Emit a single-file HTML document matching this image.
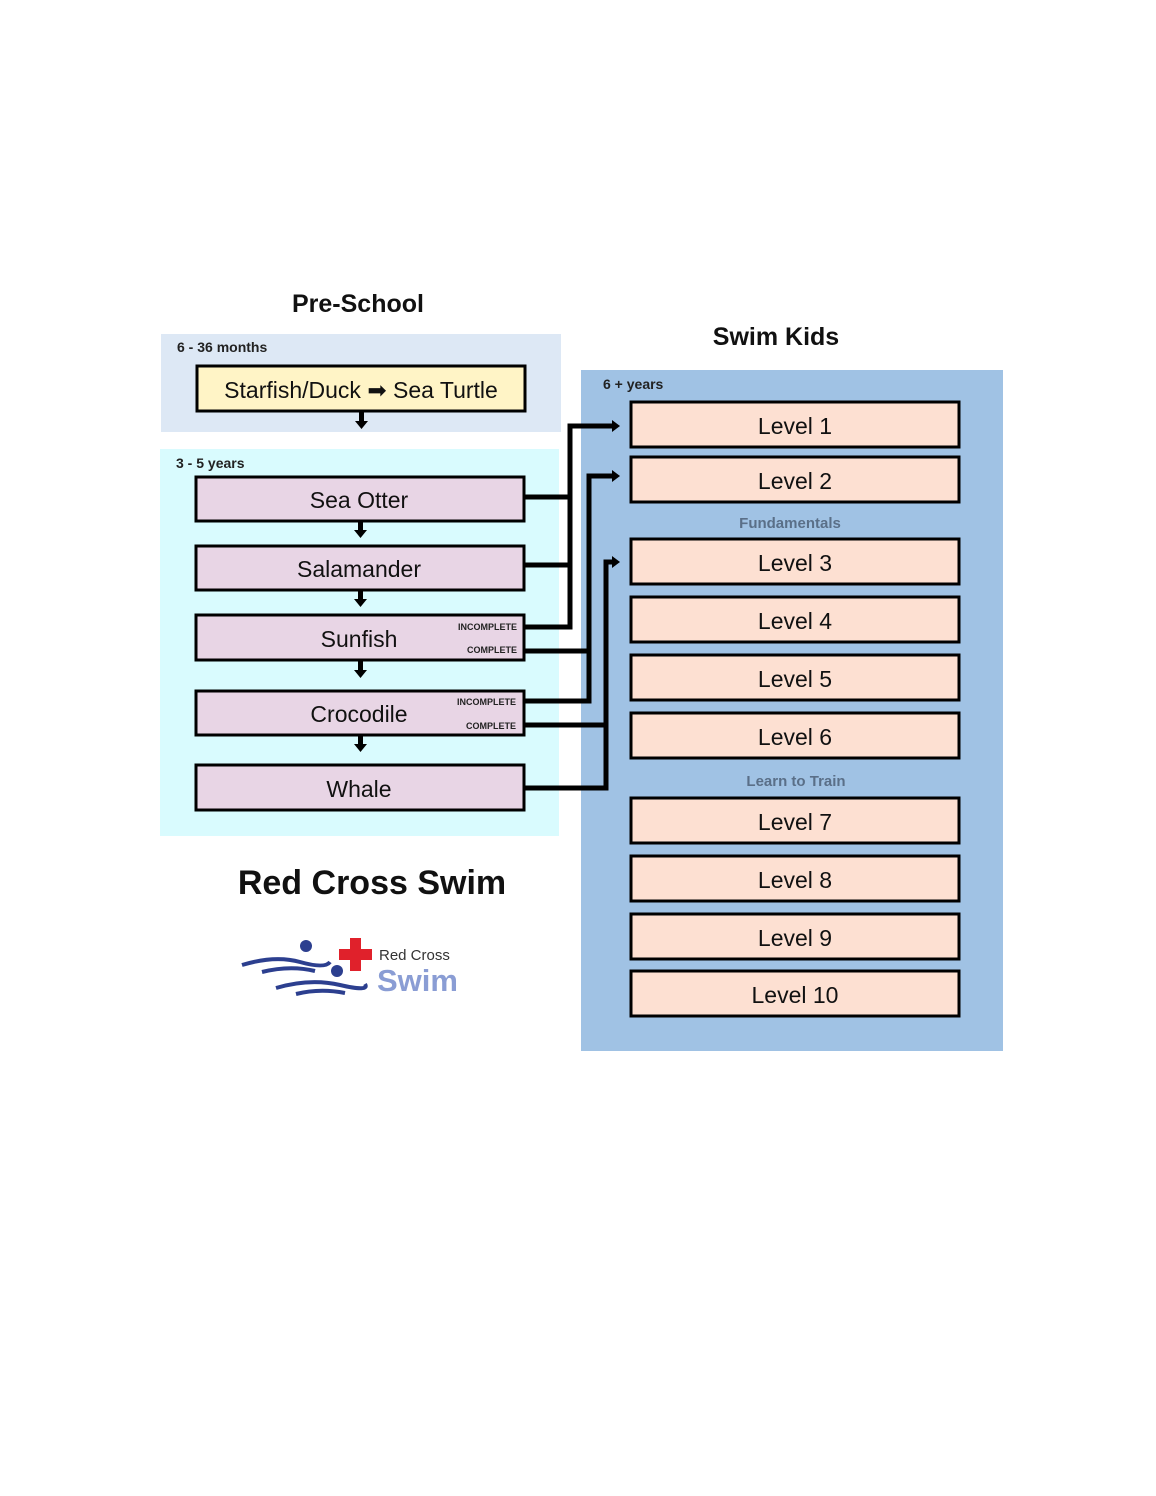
<!DOCTYPE html>
<html><head><meta charset="utf-8"><style>
html,body{margin:0;padding:0;background:#fff;}
svg{display:block;font-family:"Liberation Sans",sans-serif;}
</style></head><body>
<svg width="1156" height="1496" viewBox="0 0 1156 1496">
<rect width="1156" height="1496" fill="#fff"/>
<text x="358" y="312" text-anchor="middle" font-size="25" font-weight="bold" fill="#111">Pre-School</text>
<text x="776" y="345" text-anchor="middle" font-size="25" font-weight="bold" fill="#111">Swim Kids</text>
<rect x="161" y="334" width="400" height="98" fill="#dde8f5"/>
<rect x="160" y="449" width="399" height="387" fill="#d9fbfe"/>
<rect x="581" y="370" width="422" height="681" fill="#a0c2e4"/>
<text x="177" y="352" font-size="14" font-weight="bold" fill="#222">6 - 36 months</text>
<text x="176" y="468" font-size="14" font-weight="bold" fill="#222">3 - 5 years</text>
<text x="603" y="389" font-size="14" font-weight="bold" fill="#222">6 + years</text>
<rect x="197" y="366" width="328" height="45" fill="#fff4c6" stroke="#000" stroke-width="3"/>
<text x="361" y="398" text-anchor="middle" font-size="23" fill="#111">Starfish/Duck ➡ Sea Turtle</text>
<g fill="#e8d5e5" stroke="#000" stroke-width="3">
<rect x="196" y="477" width="328" height="44"/>
<rect x="196" y="546" width="328" height="44"/>
<rect x="196" y="615" width="328" height="45"/>
<rect x="196" y="691" width="328" height="44"/>
<rect x="196" y="765" width="328" height="45"/>
</g>
<g font-size="23" fill="#111" text-anchor="middle">
<text x="359" y="508">Sea Otter</text>
<text x="359" y="577">Salamander</text>
<text x="359" y="647">Sunfish</text>
<text x="359" y="722">Crocodile</text>
<text x="359" y="797">Whale</text>
</g>
<g font-size="9" font-weight="bold" fill="#222" text-anchor="end">
<text x="517" y="630">INCOMPLETE</text>
<text x="517" y="653">COMPLETE</text>
<text x="516" y="705">INCOMPLETE</text>
<text x="516" y="729">COMPLETE</text>
</g>
<g fill="#000">
<rect x="359" y="412" width="5" height="10"/><polygon points="355,421 368,421 361.5,429"/>
<rect x="358" y="522" width="5" height="9"/><polygon points="354,530 367,530 360.5,538"/>
<rect x="358" y="591" width="5" height="9"/><polygon points="354,599 367,599 360.5,607"/>
<rect x="358" y="661" width="5" height="10"/><polygon points="354,670 367,670 360.5,678"/>
<rect x="358" y="736" width="5" height="9"/><polygon points="354,744 367,744 360.5,752"/>
<polygon points="612,420 620,426 612,432"/>
<polygon points="612,470 620,476 612,482"/>
<polygon points="612,556 620,562 612,568"/>
</g>
<g stroke="#000" stroke-width="5" fill="none">
<polyline points="525,627 570,627 570,426 613,426"/>
<line x1="525" y1="497" x2="570" y2="497"/>
<line x1="525" y1="565" x2="570" y2="565"/>
<polyline points="525,701 589,701 589,476 613,476"/>
<line x1="525" y1="651" x2="589" y2="651"/>
<polyline points="525,788 606,788 606,562 613,562"/>
<line x1="525" y1="725" x2="606" y2="725"/>
</g>
<g fill="#fde0d2" stroke="#000" stroke-width="3">
<rect x="631" y="402" width="328" height="45"/>
<rect x="631" y="457" width="328" height="45"/>
<rect x="631" y="539" width="328" height="45"/>
<rect x="631" y="597" width="328" height="45"/>
<rect x="631" y="655" width="328" height="45"/>
<rect x="631" y="713" width="328" height="45"/>
<rect x="631" y="798" width="328" height="45"/>
<rect x="631" y="856" width="328" height="45"/>
<rect x="631" y="914" width="328" height="45"/>
<rect x="631" y="971" width="328" height="45"/>
</g>
<g font-size="23" fill="#111" text-anchor="middle">
<text x="795" y="434">Level 1</text>
<text x="795" y="489">Level 2</text>
<text x="795" y="571">Level 3</text>
<text x="795" y="629">Level 4</text>
<text x="795" y="687">Level 5</text>
<text x="795" y="745">Level 6</text>
<text x="795" y="830">Level 7</text>
<text x="795" y="888">Level 8</text>
<text x="795" y="946">Level 9</text>
<text x="795" y="1003">Level 10</text>
</g>
<text x="790" y="528" text-anchor="middle" font-size="15" font-weight="bold" fill="#5a6f88">Fundamentals</text>
<text x="796" y="786" text-anchor="middle" font-size="15" font-weight="bold" fill="#5a6f88">Learn to Train</text>
<text x="372" y="894" text-anchor="middle" font-size="34" font-weight="bold" fill="#111">Red Cross Swim</text>
<g fill="none" stroke="#2c3f8f" stroke-width="4">
<path d="M242,965 Q275,955 300,962 T330,962"/>
<path d="M262,972 Q290,965 315,971"/>
<path d="M276,988 Q310,978 340,985 T365,984"/>
<path d="M296,994 Q320,988 345,993"/>
</g>
<circle cx="306" cy="946" r="6" fill="#2c3f8f"/>
<circle cx="337" cy="971" r="6" fill="#2c3f8f"/>
<g fill="#e0212b">
<rect x="350" y="938" width="11" height="33"/>
<rect x="339" y="949" width="33" height="11"/>
</g>
<text x="379" y="960" font-size="15" fill="#333">Red Cross</text>
<text x="377" y="991" font-size="31" font-weight="bold" fill="#8a9dd4">Swim</text>
</svg>
</body></html>
